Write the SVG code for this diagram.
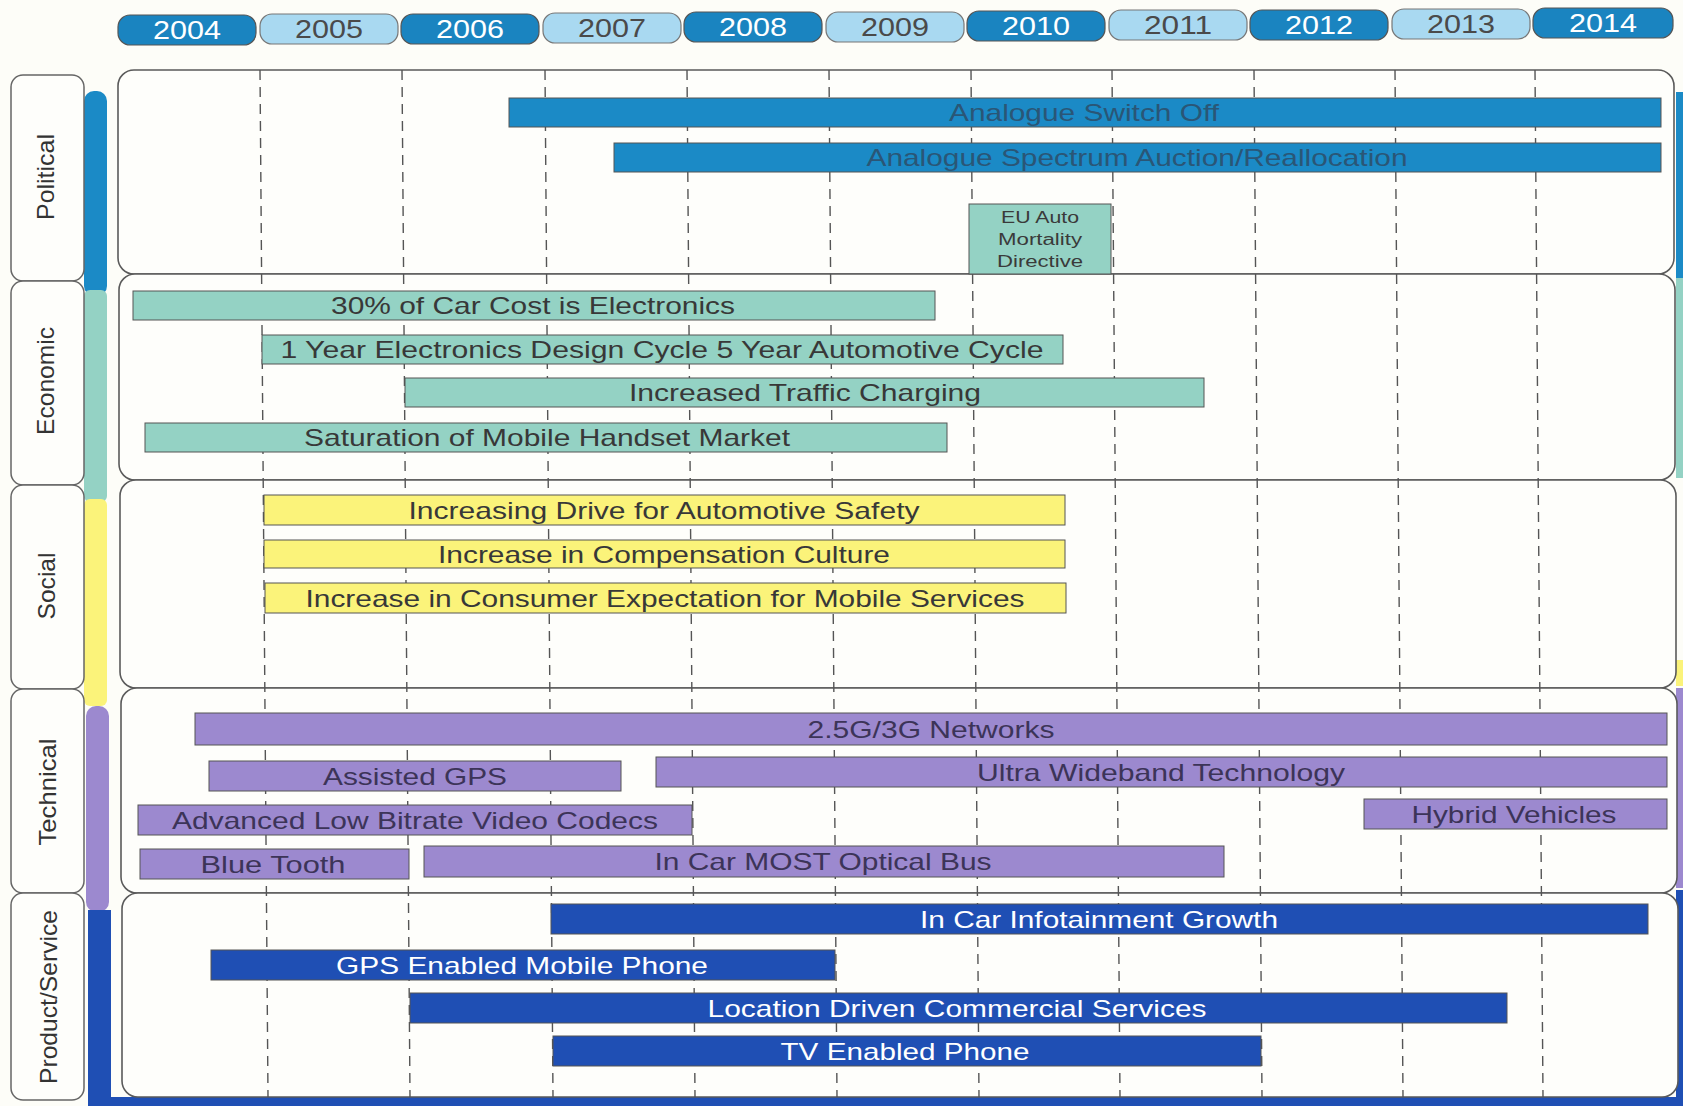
<svg xmlns="http://www.w3.org/2000/svg" width="1683" height="1106" viewBox="0 0 1683 1106">
<style>
text{font-family:"Liberation Sans",Arial,sans-serif;}
.pillD{fill:#1a84c0;stroke:#555;stroke-width:1.2;}
.pillL{fill:#a9d9f1;stroke:#777;stroke-width:1.2;}
.yD{fill:#ffffff;font-size:25px;text-anchor:middle;}
.yL{fill:#4a4a4a;font-size:25px;text-anchor:middle;}
.tab{fill:#fefefb;stroke:#666;stroke-width:1.5;}
.tabt{fill:#333;font-size:24px;text-anchor:middle;}
.panel{fill:#fefefb;stroke:#5a5a5a;stroke-width:1.6;}
.grid{stroke:#555;stroke-width:1.4;stroke-dasharray:10 7;fill:none;}
.bar{stroke:#555;stroke-width:1;}
.pol{fill:#1b8ac6;}
.eco{fill:#94d2c4;}
.soc{fill:#fbf37a;}
.tec{fill:#9c89cf;}
.pro{fill:#1f4fb4;}
.bt{font-size:24px;text-anchor:middle;}
.tpol{fill:#2a5676;}
.teco{fill:#383838;}
.tsoc{fill:#383838;}
.ttec{fill:#3c3458;}
.tpro{fill:#ffffff;}
.eu{font-size:16px;text-anchor:middle;fill:#3a3a3a;}
</style>
<rect x="0" y="0" width="1683" height="1106" fill="#fdfdf8"/>

<g id="years">
<rect class="pillD" x="118" y="15" width="138" height="30" rx="12"/><text class="yD" x="187" y="39" textLength="68" lengthAdjust="spacingAndGlyphs">2004</text>
<rect class="pillL" x="260" y="14" width="138" height="30" rx="12"/><text class="yL" x="329" y="38" textLength="68" lengthAdjust="spacingAndGlyphs">2005</text>
<rect class="pillD" x="401" y="14" width="138" height="30" rx="12"/><text class="yD" x="470" y="38" textLength="68" lengthAdjust="spacingAndGlyphs">2006</text>
<rect class="pillL" x="543" y="13" width="138" height="30" rx="12"/><text class="yL" x="612" y="37" textLength="68" lengthAdjust="spacingAndGlyphs">2007</text>
<rect class="pillD" x="684" y="12" width="138" height="30" rx="12"/><text class="yD" x="753" y="36" textLength="68" lengthAdjust="spacingAndGlyphs">2008</text>
<rect class="pillL" x="826" y="12" width="138" height="30" rx="12"/><text class="yL" x="895" y="36" textLength="68" lengthAdjust="spacingAndGlyphs">2009</text>
<rect class="pillD" x="967" y="11" width="138" height="30" rx="12"/><text class="yD" x="1036" y="35" textLength="68" lengthAdjust="spacingAndGlyphs">2010</text>
<rect class="pillL" x="1109" y="10" width="138" height="30" rx="12"/><text class="yL" x="1178" y="34" textLength="68" lengthAdjust="spacingAndGlyphs">2011</text>
<rect class="pillD" x="1250" y="10" width="138" height="30" rx="12"/><text class="yD" x="1319" y="34" textLength="68" lengthAdjust="spacingAndGlyphs">2012</text>
<rect class="pillL" x="1392" y="9" width="138" height="30" rx="12"/><text class="yL" x="1461" y="33" textLength="68" lengthAdjust="spacingAndGlyphs">2013</text>
<rect class="pillD" x="1533" y="8" width="140" height="30" rx="12"/><text class="yD" x="1603" y="32" textLength="68" lengthAdjust="spacingAndGlyphs">2014</text>
</g>

<g id="strips">
<rect x="84" y="91" width="23" height="205" rx="10" fill="#1b8ac6"/>
<rect x="84" y="290" width="23" height="212" rx="6" fill="#94d2c4"/>
<rect x="84" y="499" width="23" height="207" rx="6" fill="#fbf37a"/>
<rect x="86" y="706" width="23" height="206" rx="10" fill="#9c89cf"/>
<rect x="88" y="910" width="23" height="196" fill="#1f4fb4"/>
<rect x="88" y="1097" width="1595" height="9" fill="#1f4fb4"/>
<rect x="1676" y="92" width="7" height="186" fill="#1b8ac6"/>
<rect x="1676" y="278" width="7" height="200" fill="#94d2c4"/>
<rect x="1676" y="660" width="7" height="26" fill="#fbf37a"/>
<rect x="1676" y="688" width="7" height="200" fill="#9c89cf"/>
<rect x="1676" y="890" width="7" height="207" fill="#1f4fb4"/>
</g>

<g id="tab-political"><rect class="tab" x="11" y="75" width="73" height="206" rx="12"/><text class="tabt" transform="translate(54 177) rotate(-90)" textLength="86" lengthAdjust="spacingAndGlyphs">Political</text></g>
<g id="tab-economic"><rect class="tab" x="11" y="281" width="73" height="204" rx="12"/><text class="tabt" transform="translate(54 381) rotate(-90)" textLength="108" lengthAdjust="spacingAndGlyphs">Economic</text></g>
<g id="tab-social"><rect class="tab" x="11" y="485" width="73" height="204" rx="12"/><text class="tabt" transform="translate(55 586) rotate(-90)" textLength="67" lengthAdjust="spacingAndGlyphs">Social</text></g>
<g id="tab-technical"><rect class="tab" x="11" y="689" width="73" height="204" rx="12"/><text class="tabt" transform="translate(56 792) rotate(-90)" textLength="107" lengthAdjust="spacingAndGlyphs">Technical</text></g>
<g id="tab-product"><rect class="tab" x="11" y="893" width="73" height="207" rx="12"/><text class="tabt" transform="translate(57 997) rotate(-90)" textLength="174" lengthAdjust="spacingAndGlyphs">Product/Service</text></g>

<g id="panels">
<rect class="panel" x="118" y="70" width="1556" height="204" rx="16"/>
<rect class="panel" x="119" y="274" width="1556" height="206" rx="16"/>
<rect class="panel" x="120" y="480" width="1556" height="208" rx="16"/>
<rect class="panel" x="121" y="688" width="1556" height="205" rx="16"/>
<rect class="panel" x="122" y="893" width="1556" height="204" rx="16"/>
</g>

<g id="connectors">
<line class="grid" x1="260" y1="70" x2="268" y2="1097"/>
<line class="grid" x1="402" y1="70" x2="410" y2="1097"/>
<line class="grid" x1="545" y1="70" x2="553" y2="1097"/>
<line class="grid" x1="687" y1="70" x2="695" y2="1097"/>
<line class="grid" x1="829" y1="70" x2="837" y2="1097"/>
<line class="grid" x1="971" y1="70" x2="979" y2="1097"/>
<line class="grid" x1="1112" y1="70" x2="1120" y2="1097"/>
<line class="grid" x1="1254" y1="70" x2="1262" y2="1097"/>
<line class="grid" x1="1395" y1="70" x2="1403" y2="1097"/>
<line class="grid" x1="1535" y1="70" x2="1543" y2="1097"/>
</g>

<g id="analogue-switch-off"><rect class="bar pol" x="509" y="98" width="1152" height="29"/><text class="bt tpol" x="1084" y="121" textLength="270" lengthAdjust="spacingAndGlyphs">Analogue Switch Off</text></g>
<g id="analogue-spectrum"><rect class="bar pol" x="614" y="143" width="1047" height="29"/><text class="bt tpol" x="1137" y="166" textLength="541" lengthAdjust="spacingAndGlyphs">Analogue Spectrum Auction/Reallocation</text></g>
<g id="eu-auto"><rect class="bar eco" x="969" y="204" width="142" height="70"/>
<text class="eu" x="1040" y="223" textLength="78" lengthAdjust="spacingAndGlyphs">EU Auto</text>
<text class="eu" x="1040" y="245" textLength="84" lengthAdjust="spacingAndGlyphs">Mortality</text>
<text class="eu" x="1040" y="267" textLength="86" lengthAdjust="spacingAndGlyphs">Directive</text></g>

<g id="car-cost"><rect class="bar eco" x="133" y="291" width="802" height="29"/><text class="bt teco" x="533" y="314" textLength="404" lengthAdjust="spacingAndGlyphs">30% of Car Cost is Electronics</text></g>
<g id="design-cycle"><rect class="bar eco" x="262" y="335" width="801" height="29"/><text class="bt teco" x="662" y="358" textLength="763" lengthAdjust="spacingAndGlyphs">1 Year Electronics Design Cycle 5 Year Automotive Cycle</text></g>
<g id="traffic-charging"><rect class="bar eco" x="405" y="378" width="799" height="29"/><text class="bt teco" x="805" y="401" textLength="352" lengthAdjust="spacingAndGlyphs">Increased Traffic Charging</text></g>
<g id="handset-saturation"><rect class="bar eco" x="145" y="423" width="802" height="29"/><text class="bt teco" x="547" y="446" textLength="486" lengthAdjust="spacingAndGlyphs">Saturation of Mobile Handset Market</text></g>

<g id="safety"><rect class="bar soc" x="264" y="495" width="801" height="30"/><text class="bt tsoc" x="664" y="519" textLength="511" lengthAdjust="spacingAndGlyphs">Increasing Drive for Automotive Safety</text></g>
<g id="compensation"><rect class="bar soc" x="264" y="540" width="801" height="28"/><text class="bt tsoc" x="664" y="563" textLength="452" lengthAdjust="spacingAndGlyphs">Increase in Compensation Culture</text></g>
<g id="consumer-expectation"><rect class="bar soc" x="265" y="583" width="801" height="30"/><text class="bt tsoc" x="665" y="607" textLength="719" lengthAdjust="spacingAndGlyphs">Increase in Consumer Expectation for Mobile Services</text></g>

<g id="networks"><rect class="bar tec" x="195" y="713" width="1472" height="32"/><text class="bt ttec" x="931" y="738" textLength="247" lengthAdjust="spacingAndGlyphs">2.5G/3G Networks</text></g>
<g id="assisted-gps"><rect class="bar tec" x="209" y="761" width="412" height="30"/><text class="bt ttec" x="415" y="785" textLength="184" lengthAdjust="spacingAndGlyphs">Assisted GPS</text></g>
<g id="uwb"><rect class="bar tec" x="656" y="757" width="1011" height="30"/><text class="bt ttec" x="1161" y="781" textLength="368" lengthAdjust="spacingAndGlyphs">Ultra Wideband Technology</text></g>
<g id="video-codecs"><rect class="bar tec" x="138" y="805" width="554" height="30"/><text class="bt ttec" x="415" y="829" textLength="486" lengthAdjust="spacingAndGlyphs">Advanced Low Bitrate Video Codecs</text></g>
<g id="hybrid"><rect class="bar tec" x="1364" y="799" width="303" height="30"/><text class="bt ttec" x="1514" y="823" textLength="205" lengthAdjust="spacingAndGlyphs">Hybrid Vehicles</text></g>
<g id="bluetooth"><rect class="bar tec" x="140" y="849" width="269" height="30"/><text class="bt ttec" x="273" y="873" textLength="145" lengthAdjust="spacingAndGlyphs">Blue Tooth</text></g>
<g id="most-bus"><rect class="bar tec" x="424" y="846" width="800" height="31"/><text class="bt ttec" x="823" y="870" textLength="337" lengthAdjust="spacingAndGlyphs">In Car MOST Optical Bus</text></g>

<g id="infotainment"><rect class="bar pro" x="551" y="904" width="1097" height="30"/><text class="bt tpro" x="1099" y="928" textLength="358" lengthAdjust="spacingAndGlyphs">In Car Infotainment Growth</text></g>
<g id="gps-phone"><rect class="bar pro" x="211" y="950" width="624" height="30"/><text class="bt tpro" x="522" y="974" textLength="372" lengthAdjust="spacingAndGlyphs">GPS Enabled Mobile Phone</text></g>
<g id="location-services"><rect class="bar pro" x="410" y="993" width="1097" height="30"/><text class="bt tpro" x="957" y="1017" textLength="499" lengthAdjust="spacingAndGlyphs">Location Driven Commercial Services</text></g>
<g id="tv-phone"><rect class="bar pro" x="553" y="1036" width="708" height="30"/><text class="bt tpro" x="905" y="1060" textLength="249" lengthAdjust="spacingAndGlyphs">TV Enabled Phone</text></g>
</svg>
